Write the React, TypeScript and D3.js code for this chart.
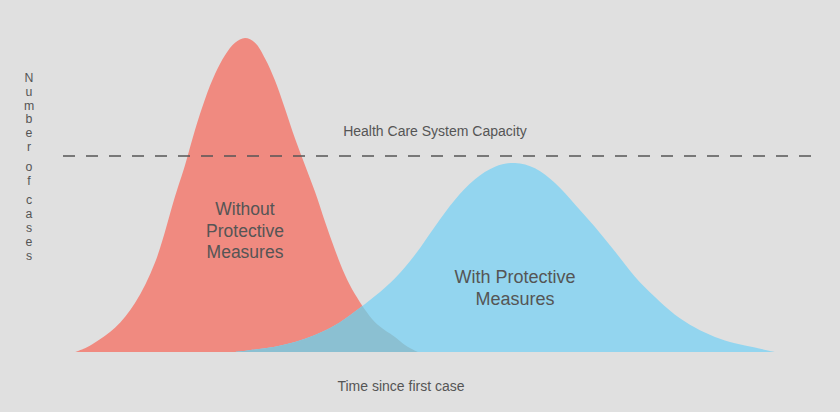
import React from "react";
import * as d3 from "d3";

const redTime = [0, 1, 2, 4, 6, 8, 10, 11, 12, 13, 14, 15, 16, 17, 18, 19, 20, 21, 22, 23, 24, 25, 26, 27, 28, 30, 32, 33, 34, 34.3];
const redValues = [0, 1.2, 3.0, 7.7, 15.6, 28.5, 49.5, 59.5, 70.7, 80.5, 88.5, 94.5, 98.5, 100, 98.5, 93.5, 86.5, 77.5, 68, 59.5, 51, 41.5, 32.5, 24.5, 18.4, 9.5, 4.8, 2.2, 0.4, 0];
const blueTime = [16, 18, 20, 22, 24, 26, 28, 30, 32, 34, 36, 38, 40, 42, 44, 46, 48, 50, 52, 54, 56, 58, 60, 62, 64, 66, 68, 70];
const blueValues = [0, 0.8, 1.7, 3.2, 5.4, 8.5, 12.9, 17.8, 23.5, 31, 40, 48.5, 55, 59, 60.2, 58.5, 53.8, 47, 39.8, 32, 24, 17.5, 11.9, 7.8, 4.8, 2.8, 1.4, 0];
const capacity = 62.4;
const yLabel = "Number of cases";
const xLabel = "Time since first case";
const capacityLabel = "Health Care System Capacity";
const withoutLabel = ["Without", "Protective", "Measures"];
const withLabel = ["With Protective", "Measures"];

const W = 840;
const H = 412;
const TEXT = "#555555";
const FONT = "'Liberation Sans', Arial, sans-serif";

export default function App() {
  const x = d3.scaleLinear().domain([0, 70]).range([75, 775]);
  const y = d3.scaleLinear().domain([0, 100]).range([352, 38]);

  const area = d3
    .area<[number, number]>()
    .x((d) => x(d[0]))
    .y0(y(0))
    .y1((d) => Math.max(y(100), Math.min(y(0), y(d[1]))))
    .curve(d3.curveCatmullRom.alpha(0.5));

  const redData: [number, number][] = redTime.map((t, i) => [t, redValues[i]]);
  const blueData: [number, number][] = blueTime.map((t, i) => [t, blueValues[i]]);
  const redPath = area(redData) || "";
  const bluePath = area(blueData) || "";

  let cy = 77;
  const chars: { c: string; y: number }[] = [];
  for (const c of yLabel) {
    if (c === " ") {
      cy += 6;
      continue;
    }
    chars.push({ c, y: cy });
    cy += 13.8;
  }

  return (
    <svg
      width={W}
      height={H}
      style={{ position: "absolute", left: 0, top: 0, background: "#e0e0e0" }}
      fontFamily={FONT}
    >
      <rect x={0} y={0} width={W} height={H} fill="#e0e0e0" />
      <defs>
        <clipPath id="redClip">
          <path d={redPath} />
        </clipPath>
      </defs>
      <path d={redPath} fill="#f08a80" />
      <path d={bluePath} fill="#93d5ef" />
      <path d={bluePath} fill="#8bc0d2" clipPath="url(#redClip)" />

      <line
        x1={63}
        x2={815}
        y1={y(capacity)}
        y2={y(capacity)}
        stroke="#555"
        strokeWidth={1.5}
        strokeDasharray="12,11"
      />
      <text x={435} y={y(capacity) - 20} textAnchor="middle" fontSize={14} fill={TEXT}>
        {capacityLabel}
      </text>

      {withoutLabel.map((s, i) => (
        <text key={s} x={245} y={215 + i * 21.5} textAnchor="middle" fontSize={17.5} fill={TEXT}>
          {s}
        </text>
      ))}
      {withLabel.map((s, i) => (
        <text key={s} x={515} y={283 + i * 22} textAnchor="middle" fontSize={18} fill={TEXT}>
          {s}
        </text>
      ))}

      {chars.map((d, i) => (
        <text key={i} x={29} y={d.y + 5} textAnchor="middle" fontSize={12.3} fill={TEXT}>
          {d.c}
        </text>
      ))}

      <text x={401} y={391} textAnchor="middle" fontSize={14} fill={TEXT}>
        {xLabel}
      </text>
    </svg>
  );
}
